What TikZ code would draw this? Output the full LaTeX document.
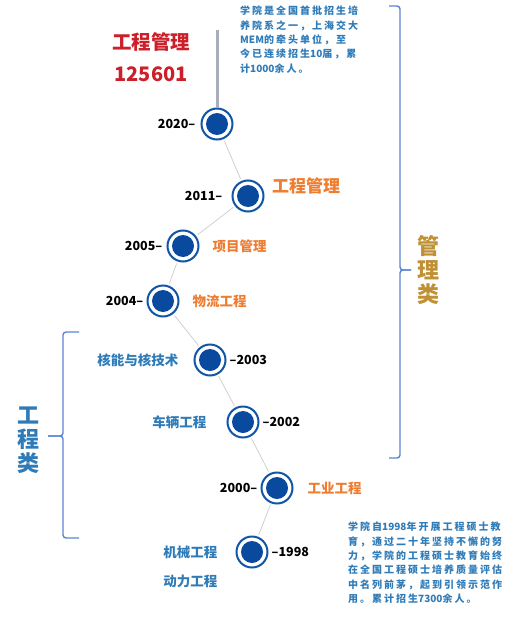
\documentclass[tikz,border=0pt]{standalone}
\usepackage{fontspec}
\setmainfont{Noto Sans CJK SC}
\newfontfamily\notefont{Noto Sans CJK SC}[LetterSpace=20]
\newfontfamily\digitfont{Noto Sans CJK SC}
\newcommand{\dg}[1]{{\digitfont\bfseries #1}}
\usepackage{xcolor}
\usepackage{tikz}
\usetikzlibrary{positioning}

\definecolor{dotblue}{HTML}{0A4A9E}
\definecolor{ringblue}{HTML}{1155A5}
\definecolor{linkgray}{HTML}{D0D0D0}
\definecolor{stemgray}{HTML}{A8AEBB}
\definecolor{mgorange}{HTML}{EE7D31}
\definecolor{engblue}{HTML}{2E7BB8}
\definecolor{braceblue}{HTML}{5A84D0}
\definecolor{codered}{HTML}{CC1F2A}
\definecolor{gold}{HTML}{BF9034}

\begin{document}
\begin{tikzpicture}
    [x=1pt, y=-1pt,
    dot/.style={circle,
        draw=ringblue, line width=2pt,
        fill=white, minimum size=31pt, inner sep=0pt,
        path picture={\fill[dotblue] (path picture bounding box.center) circle (11pt);}},
    yr/.style={font=\bfseries\fontsize{12.5}{12.5}\selectfont,
        text=black, inner sep=0pt},
    mg/.style={font=\bfseries\fontsize{13.5}{14}\selectfont,
        text=mgorange, inner sep=0pt},
    eng/.style={font=\bfseries\fontsize{13.5}{14}\selectfont,
        text=engblue, inner sep=0pt},
    link/.style={draw=linkgray, line width=0.8pt,
        shorten <=2pt, shorten >=2pt},
    brace/.style={draw=braceblue, line width=1.4pt,
        rounded corners=3pt},
    note/.style={font=\notefont\bfseries\fontsize{10}{14.3}\selectfont,
        text=engblue, align=left, anchor=north west, inner sep=0pt}]

    \useasboundingbox (0,0) rectangle (519,634);

    % timeline dots
    \node[dot] at (217,124) (n2020) {};
    \node[dot] at (248,196) (n2011) {};
    \node[dot] at (183,246) (n2005) {};
    \node[dot] at (163,301) (n2004) {};
    \node[dot] at (210,360) (n2003) {};
    \node[dot] at (243,422) (n2002) {};
    \node[dot] at (277,488) (n2000) {};
    \node[dot] at (252,552) (n1998) {};

    % stem and links
    \coordinate (stemtop) at (217,30);
    \draw[stemgray, line width=3pt] (stemtop) -- (n2020);
    \draw[link] (n2020) -- (n2011);
    \draw[link] (n2011) -- (n2005);
    \draw[link] (n2005) -- (n2004);
    \draw[link] (n2004) -- (n2003);
    \draw[link] (n2003) -- (n2002);
    \draw[link] (n2002) -- (n2000);
    \draw[link] (n2000) -- (n1998);

    % years
    \node[yr, left=5pt of n2020] (y2020) {2020–};
    \node[yr, left=9pt of n2011] (y2011) {2011–};
    \node[yr, left=4pt of n2005] (y2005) {2005–};
    \node[yr, left=3pt of n2004] (y2004) {2004–};
    \node[yr, right=3pt of n2003] (y2003) {–2003};
    \node[yr, right=3pt of n2002] (y2002) {–2002};
    \node[yr, left=3pt of n2000] (y2000) {2000–};
    \node[yr, right=3pt of n1998] (y1998) {–1998};

    % programmes
    \node[mg, anchor=west, font=\bfseries\fontsize{17}{17}\selectfont] at (272,186) (gcgl) {工程管理};
    \node[mg, right=13pt of n2005] (xmgl) {项目管理};
    \node[mg, right=13pt of n2004] (wlgc) {物流工程};
    \node[mg, right=14pt of n2000] (gygc) {工业工程};
    \node[eng, left=15pt of n2003] (hn) {核能与核技术};
    \node[eng, left=20pt of n2002] (cl) {车辆工程};
    \node[eng, left=18pt of n1998] (jx) {机械工程};
    \node[eng, anchor=east] at (jx.east |- 0,581) (dl) {动力工程};

    % code
    \node[font=\bfseries\fontsize{19.5}{20}\selectfont, text=codered] at (151,42) (title) {工程管理};
    \node[font=\bfseries\fontsize{20}{20}\selectfont, text=codered] at (151,74) (code) {125601};

    % notes
    \node[note] at (240,6) (topnote) {学院是全国首批招生培\\养院系之一，上海交大\\\dg{MEM}的牵头单位，至\\今已连续招生\dg{10}届，累\\计\dg{1000}余人。};
    \node[note] at (348,522) (botnote) {学院自\dg{1998}年开展工程硕士教\\育，通过二十年坚持不懈的努\\力，学院的工程硕士教育始终\\在全国工程硕士培养质量评估\\中名列前茅，起到引领示范作\\用。累计招生\dg{7300}余人。};

    % braces
    \draw[brace] (389,6) -- (400,6) -- (400,270) -- (411,270);
    \draw[brace] (411,270) -- (400,270) -- (400,458) -- (389,458);
    \draw[brace] (79,332) -- (63,332) -- (63,436) -- (48,436);
    \draw[brace] (48,436) -- (63,436) -- (63,538) -- (79,538);

    \node[font=\bfseries\fontsize{22}{24}\selectfont, text=gold, align=center] at (428,270) (glx) {管\\理\\类};
    \node[font=\bfseries\fontsize{22}{24}\selectfont, text=engblue, align=center] at (28,440) (gcx) {工\\程\\类};
\end{tikzpicture}
\end{document}
